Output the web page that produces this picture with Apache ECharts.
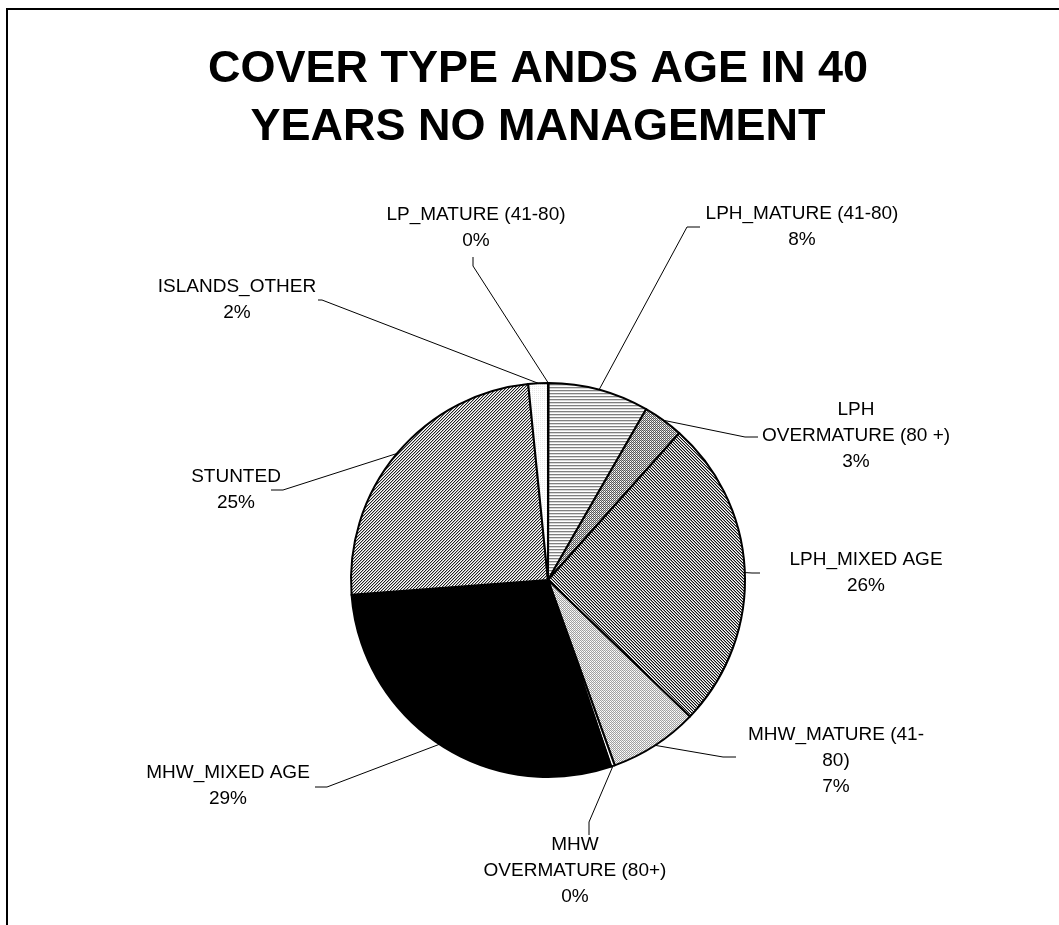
<!DOCTYPE html>
<html><head><meta charset="utf-8">
<script src="https://cdn.jsdelivr.net/npm/echarts@6/dist/echarts.min.js"></script>
<style>html,body{margin:0;padding:0;background:#fff}#c{width:1059px;height:925px}</style>
</head><body><div id="c"></div>
<script>
// ---- data ----
const categories = ['LP_MATURE (41-80)','LPH_MATURE (41-80)','LPH OVERMATURE (80 +)','LPH_MIXED AGE','MHW_MATURE (41-80)','MHW OVERMATURE (80+)','MHW_MIXED AGE','STUNTED','ISLANDS_OTHER'];
const values = [0.05, 8.25, 3.3, 25.6, 7.3, 0.3, 29.0, 24.6, 1.6];
const wrappedLabels = ['LP_MATURE (41-80)','LPH_MATURE (41-80)','LPH\nOVERMATURE (80 +)','LPH_MIXED AGE','MHW_MATURE (41-\n80)','MHW\nOVERMATURE (80+)','MHW_MIXED AGE','STUNTED','ISLANDS_OTHER'];
const titleText = 'COVER TYPE ANDS AGE IN 40\nYEARS NO MANAGEMENT';

// ---- layout (label positions / leader lines) ----
const CX = 548, CY = 580, R = 197;
const labelCenters = [[476,228],[802,227],[856,436],[866,573],[836,761],[575,871],[228,786],[236,490],[237,300]];
const leaderTail = [
  [[473,266],[473,257]],
  [[687,227],[700,227]],
  [[745,437],[758,437]],
  [[752,573],[760,573]],
  [[723,757],[736,757]],
  [[589,822],[589,835]],
  [[327,787],[315,787]],
  [[283,490],[271,490]],
  [[322,300],[318,300]]
];

// ---- pattern fills ----
function pat(w,h,draw){const c=document.createElement('canvas');c.width=w;c.height=h;const g=c.getContext('2d');g.fillStyle='#fff';g.fillRect(0,0,w,h);draw(g);return {image:c,repeat:'repeat'};}
const fills = [
  '#ffffff',
  pat(4,3,g=>{g.fillStyle='#808080';g.fillRect(0,0,4,1);g.fillStyle='#d8d8d8';g.fillRect(0,1,4,1);}),
  pat(2,2,g=>{g.fillStyle='#5a5a5a';g.fillRect(0,0,1,1);g.fillRect(1,1,1,1);g.fillStyle='#c0c0c0';g.fillRect(1,0,1,1);}),
  pat(3,3,g=>{for(let i=0;i<3;i++){g.fillStyle='#111';g.fillRect(i,i,1,1);g.fillStyle='#999';g.fillRect(i,(i+1)%3,1,1);}}),
  pat(2,2,g=>{g.fillStyle='#a0a0a0';g.fillRect(0,0,1,1);g.fillRect(1,1,1,1);g.fillStyle='#e8e8e8';g.fillRect(1,0,1,1);}),
  '#ffffff',
  '#000000',
  pat(3,3,g=>{for(let i=0;i<3;i++){g.fillStyle='#222';g.fillRect(i,2-i,1,1);g.fillStyle='#b8b8b8';g.fillRect(i,(3-i)%3,1,1);}}),
  pat(2,2,g=>{g.fillStyle='#e8e8e8';g.fillRect(0,0,1,1);})
];

const total = values.reduce((a,b)=>a+b,0);
const midPts = [];
{let cum=0; values.forEach(v=>{const th=(cum+v/2)/total*Math.PI*2; midPts.push([CX+R*Math.sin(th), CY-R*Math.cos(th)]); cum+=v;});}

const chart = echarts.init(document.getElementById('c'), null, {renderer:'canvas'});
chart.setOption({
  backgroundColor:'#fff',
  animation:false,
  title:{text:titleText,left:533,top:36,textAlign:'center',
    textStyle:{fontFamily:'Liberation Sans, Arial, sans-serif',fontSize:45,fontWeight:'bold',color:'#000',lineHeight:58}},
  graphic:[{type:'rect',shape:{x:7,y:9,width:1200,height:1200},style:{fill:'none',stroke:'#000',lineWidth:2},silent:true}],
  series:[{
    type:'pie',
    center:[CX,CY],
    radius:R,
    startAngle:90,
    clockwise:true,
    avoidLabelOverlap:false,
    minAngle:0,
    data: categories.map((n,i)=>({name:n,value:values[i],itemStyle:{color:fills[i]}})),
    itemStyle:{borderColor:'#000',borderWidth:2},
    label:{show:true,position:'outside',color:'#000',fontFamily:'Liberation Sans, Arial, sans-serif',fontSize:19,lineHeight:26,
      formatter:p=>wrappedLabels[p.dataIndex]+'\n'+Math.round(p.value/total*100)+'%'},
    labelLine:{show:true,lineStyle:{color:'#000',width:1}},
    labelLayout:function(p){
      const i=p.dataIndex;
      return {x:labelCenters[i][0],y:labelCenters[i][1],align:'center',verticalAlign:'middle',
        labelLinePoints:[midPts[i],leaderTail[i][0],leaderTail[i][1]]};
    },
    emphasis:{disabled:true}
  }]
});
</script></body></html>
